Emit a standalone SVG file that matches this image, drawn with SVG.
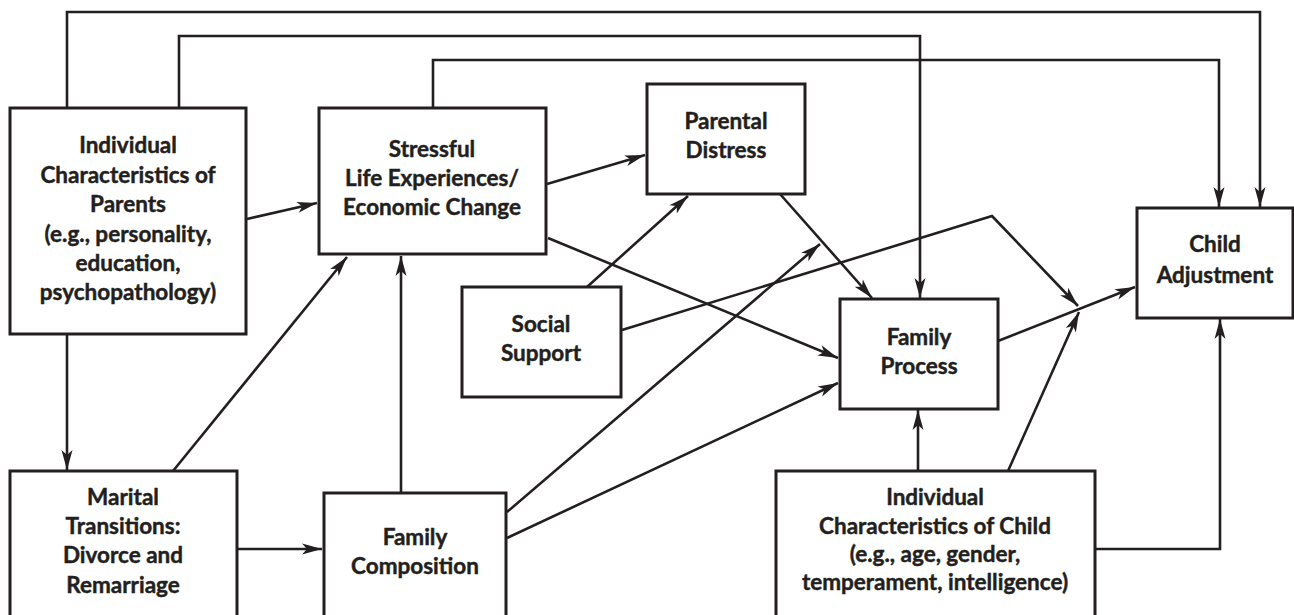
<svg xmlns="http://www.w3.org/2000/svg" width="1294" height="615" viewBox="0 0 1294 615">
<defs>
<marker id="ah" markerUnits="userSpaceOnUse" markerWidth="20" markerHeight="11" refX="20" refY="5.5" orient="auto" overflow="visible">
<path d="M0,0 L20,5.5 L0,11 L5,5.5 z" fill="#231f20"/>
</marker>
<style>
.box{fill:#fff;stroke:#231f20;stroke-width:3}
.c{fill:none;stroke:#231f20;stroke-width:2.6}
.a{marker-end:url(#ah)}
text{font-family:Lato,"Open Sans","Liberation Sans",sans-serif;font-weight:bold;font-size:22.5px;fill:#231f20;stroke:#231f20;stroke-width:0.45;text-anchor:middle}
</style>
</defs>
<rect width="1294" height="615" fill="#fff"/>
<g id="connectors">
<path class="c a" d="M67,108 V12 H1260 V207"/>
<path class="c a" d="M179,108 V36 H920 V298"/>
<path class="c a" d="M433,108 V60 H1219 V207"/>
<path class="c a" d="M247,219 L317,203"/>
<path class="c a" d="M67,335 V470"/>
<path class="c a" d="M173,471 L347,257"/>
<path class="c a" d="M401,493 V256"/>
<path class="c a" d="M238,549 H322"/>
<path class="c a" d="M547,184 L645,155"/>
<path class="c a" d="M587,287 L688,196"/>
<path class="c a" d="M780,194 L872,298"/>
<path class="c a" d="M548,238 L838,358"/>
<path class="c a" d="M622,330 L992,216 L1078,306"/>
<path class="c a" d="M507,512 L820,244"/>
<path class="c a" d="M507,538 L838,383"/>
<path class="c a" d="M998,341 L1135,287"/>
<path class="c a" d="M1008,471 L1079,312"/>
<path class="c a" d="M918,471 V410"/>
<path class="c a" d="M1095,549 H1220 V319"/>
</g>
<g id="parents">
<rect class="box" x="10" y="108" width="236" height="226"/>
<text x="128" y="153">Individual</text>
<text x="128" y="183">Characteristics of</text>
<text x="128" y="212">Parents</text>
<text x="128" y="242">(e.g., personality,</text>
<text x="128" y="271">education,</text>
<text x="128" y="300">psychopathology)</text>
</g>
<g id="stressful">
<rect class="box" x="319" y="108" width="227" height="146"/>
<text x="432" y="157">Stressful</text>
<text x="432" y="186">Life Experiences/</text>
<text x="432" y="215">Economic Change</text>
</g>
<g id="distress">
<rect class="box" x="647" y="84" width="158" height="110"/>
<text x="726" y="129">Parental</text>
<text x="726" y="158">Distress</text>
</g>
<g id="social">
<rect class="box" x="462" y="287" width="159" height="110"/>
<text x="541" y="332">Social</text>
<text x="541" y="361">Support</text>
</g>
<g id="process">
<rect class="box" x="840" y="299" width="158" height="110"/>
<text x="919" y="345">Family</text>
<text x="919" y="374">Process</text>
</g>
<g id="adjustment">
<rect class="box" x="1137" y="208" width="156" height="110"/>
<text x="1215" y="252">Child</text>
<text x="1215" y="283">Adjustment</text>
</g>
<g id="marital">
<rect class="box" x="10" y="471" width="227" height="160"/>
<text x="123" y="505">Marital</text>
<text x="123" y="534">Transitions:</text>
<text x="123" y="563">Divorce and</text>
<text x="123" y="593">Remarriage</text>
</g>
<g id="composition">
<rect class="box" x="324" y="493" width="182" height="140"/>
<text x="415" y="545">Family</text>
<text x="415" y="574">Composition</text>
</g>
<g id="child">
<rect class="box" x="776" y="471" width="319" height="160"/>
<text x="935" y="505">Individual</text>
<text x="935" y="534">Characteristics of Child</text>
<text x="935" y="562">(e.g., age, gender,</text>
<text x="935" y="590">temperament, intelligence)</text>
</g>
</svg>
